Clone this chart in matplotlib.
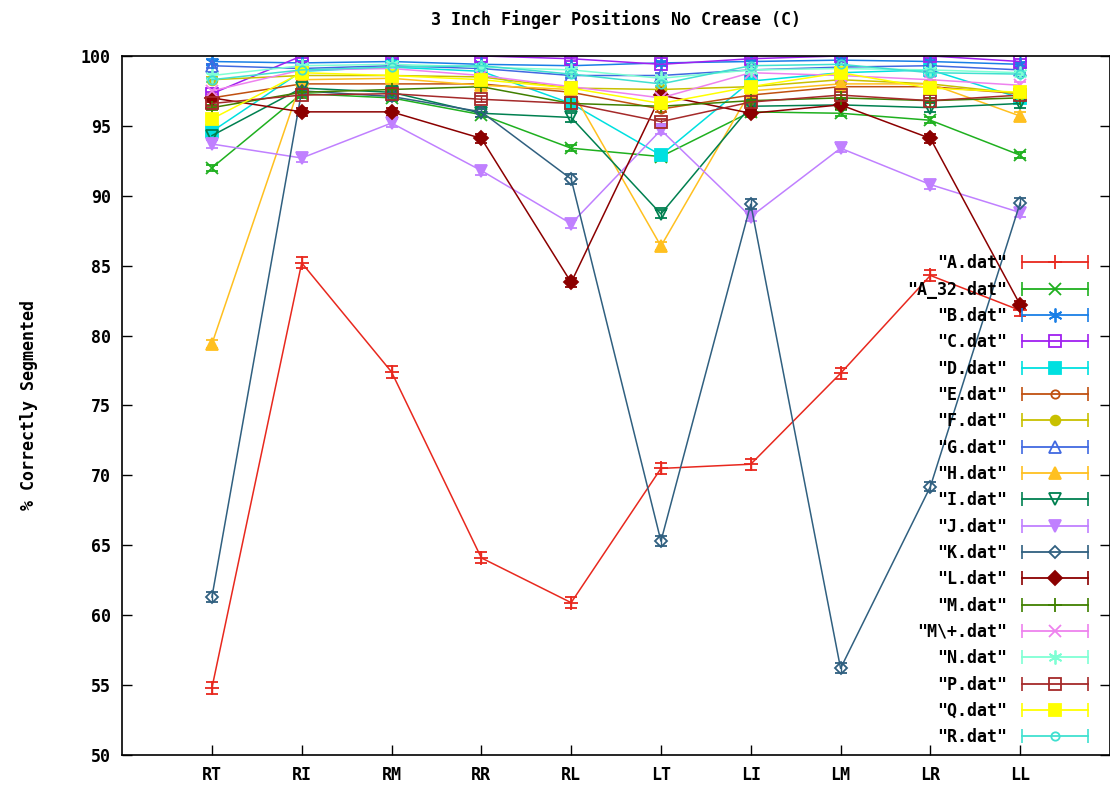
import matplotlib
matplotlib.use("Agg")
import matplotlib.pyplot as plt
from matplotlib.legend_handler import HandlerLine2D
from matplotlib.lines import Line2D

# finger positions along the x axis
fingers = ["RT", "RI", "RM", "RR", "RL", "LT", "LI", "LM", "LR", "LL"]

# % correctly segmented per data file
a_dat = [54.8, 85.2, 77.4, 64.1, 60.9, 70.5, 70.8, 77.3, 84.3, 81.8]
a32_dat = [92.0, 97.3, 97.0, 95.8, 93.4, 92.8, 96.0, 95.9, 95.4, 92.9]
b_dat = [99.6, 99.5, 99.6, 99.4, 99.3, 99.5, 99.6, 99.7, 99.6, 99.4]
c_dat = [97.3, 100.0, 100.0, 100.0, 99.8, 99.4, 99.8, 100.0, 100.0, 99.6]
d_dat = [94.6, 98.9, 99.2, 98.9, 96.6, 92.9, 98.2, 98.8, 99.0, 97.0]
e_dat = [97.0, 98.0, 98.0, 98.0, 97.4, 96.2, 97.2, 97.8, 97.8, 97.3]
f_dat = [98.3, 98.6, 98.6, 98.5, 97.7, 97.6, 97.8, 98.3, 98.0, 97.3]
g_dat = [99.3, 99.1, 99.3, 99.1, 98.6, 98.6, 99.0, 99.2, 99.3, 99.0]
h_dat = [79.4, 98.3, 98.4, 97.9, 97.6, 86.4, 97.5, 98.0, 98.0, 95.7]
i_dat = [94.3, 97.7, 97.4, 95.9, 95.6, 88.7, 96.4, 96.5, 96.3, 96.6]
j_dat = [93.7, 92.7, 95.2, 91.8, 88.0, 94.7, 88.5, 93.4, 90.8, 88.8]
k_dat = [61.3, 97.5, 97.1, 96.0, 91.2, 65.3, 89.4, 56.2, 69.2, 89.5]
l_dat = [97.0, 96.0, 96.0, 94.1, 83.8, 97.2, 95.9, 96.5, 94.1, 82.2]
m_dat = [96.3, 97.4, 97.6, 97.8, 96.6, 96.4, 96.8, 97.0, 96.8, 97.0]
mplus_dat = [97.5, 99.0, 99.1, 98.6, 97.8, 97.0, 98.8, 98.6, 98.3, 97.9]
n_dat = [98.6, 99.3, 99.4, 99.2, 99.0, 98.4, 99.0, 99.1, 99.0, 98.8]
p_dat = [96.6, 97.2, 97.3, 96.9, 96.6, 95.3, 96.7, 97.2, 96.8, 97.2]
q_dat = [95.5, 98.8, 98.6, 98.3, 97.7, 96.6, 97.8, 98.8, 97.7, 97.4]
r_dat = [98.3, 99.0, 99.2, 99.3, 98.7, 98.0, 99.3, 99.4, 98.8, 98.7]

labels = ['"A.dat"', '"A_32.dat"', '"B.dat"', '"C.dat"', '"D.dat"', '"E.dat"',
          '"F.dat"', '"G.dat"', '"H.dat"', '"I.dat"', '"J.dat"', '"K.dat"',
          '"L.dat"', '"M.dat"', '"M\\+.dat"', '"N.dat"', '"P.dat"', '"Q.dat"',
          '"R.dat"']
series = [a_dat, a32_dat, b_dat, c_dat, d_dat, e_dat, f_dat, g_dat, h_dat,
          i_dat, j_dat, k_dat, l_dat, m_dat, mplus_dat, n_dat, p_dat, q_dat,
          r_dat]
# rough size of the error bars for each file
errors = [0.4, 0.2, 0.15, 0.15, 0.2, 0.2, 0.2, 0.15, 0.3, 0.3, 0.3, 0.35,
          0.3, 0.2, 0.2, 0.15, 0.2, 0.2, 0.15]

# gnuplot-like colours and point types
colors = ["#e8281e", "#1fb01f", "#1a7fe6", "#a020f0", "#00e0e0", "#c05010",
          "#c8c000", "#4169e1", "#ffc020", "#008050", "#c080ff", "#306080",
          "#8b0000", "#408000", "#ee82ee", "#7fffd4", "#a52a2a", "#ffff00",
          "#40e0d0"]
star = (6, 2, 0)  # asterisk like gnuplot's point type 3
markers = ["+", "x", star, "s", "s", "o", "o", "^", "^", "v", "v", "D", "D",
           "+", "x", star, "s", "s", "o"]
filled = [True, True, True, False, True, False, True, False, True, False,
          True, False, True, True, True, True, False, True, False]
msizes = [10, 9, 10, 8, 9, 6, 7, 8, 9, 8, 9, 6, 7, 10, 9, 10, 8, 9, 6]

mono = "DejaVu Sans Mono"


class CapHandler(HandlerLine2D):
    # legend sample like gnuplot: line with end caps and marker in middle
    def create_artists(self, legend, orig_handle, xdescent, ydescent,
                       width, height, fontsize, trans):
        artists = super().create_artists(legend, orig_handle, xdescent,
                                         ydescent, width, height, fontsize,
                                         trans)
        y = height / 2 - ydescent
        caps = Line2D([-xdescent, -xdescent + width], [y, y], linestyle="none",
                      marker="|", markersize=10, markeredgewidth=1.2,
                      color=orig_handle.get_color(), transform=trans)
        return artists + [caps]


fig = plt.figure(figsize=(11.10, 7.99), dpi=100)
ax = fig.add_axes([0.110, 0.055, 0.890, 0.875])

x = list(range(1, len(fingers) + 1))
handles = []
for vals, err, lab, col, mk, fl, ms in zip(series, errors, labels, colors,
                                           markers, filled, msizes):
    ax.errorbar(x, vals, yerr=err, color=col, linewidth=1.1, capsize=4,
                elinewidth=1, marker=mk, markersize=ms,
                markerfacecolor=col if fl else "none", markeredgecolor=col,
                markeredgewidth=1.3)
    handles.append(Line2D([], [], color=col, linewidth=1.3, marker=mk,
                          markersize=ms, markeredgewidth=1.3,
                          markerfacecolor=col if fl else "none",
                          markeredgecolor=col, label=lab))

ax.set_xlim(0, 11)
ax.set_ylim(50, 100)
ax.set_xticks(x)
ax.set_xticklabels(fingers)
ax.set_yticks(range(50, 101, 5))
ax.tick_params(direction="in", length=7, top=True, right=True, width=1,
               labelsize=12, pad=8)
for t in ax.get_xticklabels() + ax.get_yticklabels():
    t.set_fontfamily(mono)
    t.set_fontweight("bold")
for s in ax.spines.values():
    s.set_linewidth(1.2)

ax.set_title("3 Inch Finger Positions No Crease (C)", fontfamily=mono,
             fontsize=12, fontweight="bold", pad=22)
ax.set_ylabel("% Correctly Segmented", fontfamily=mono, fontsize=12,
              fontweight="bold", labelpad=31)

ax.legend(handles=handles, loc="upper right", bbox_to_anchor=(0.99, 0.733),
          frameon=False, markerfirst=False, numpoints=1, handlelength=4.0,
          handletextpad=0.9, labelspacing=0.5, borderaxespad=0.3,
          prop={"family": mono, "weight": "bold", "size": 12},
          handler_map={Line2D: CapHandler()})

fig.savefig("out.png", dpi=100)
